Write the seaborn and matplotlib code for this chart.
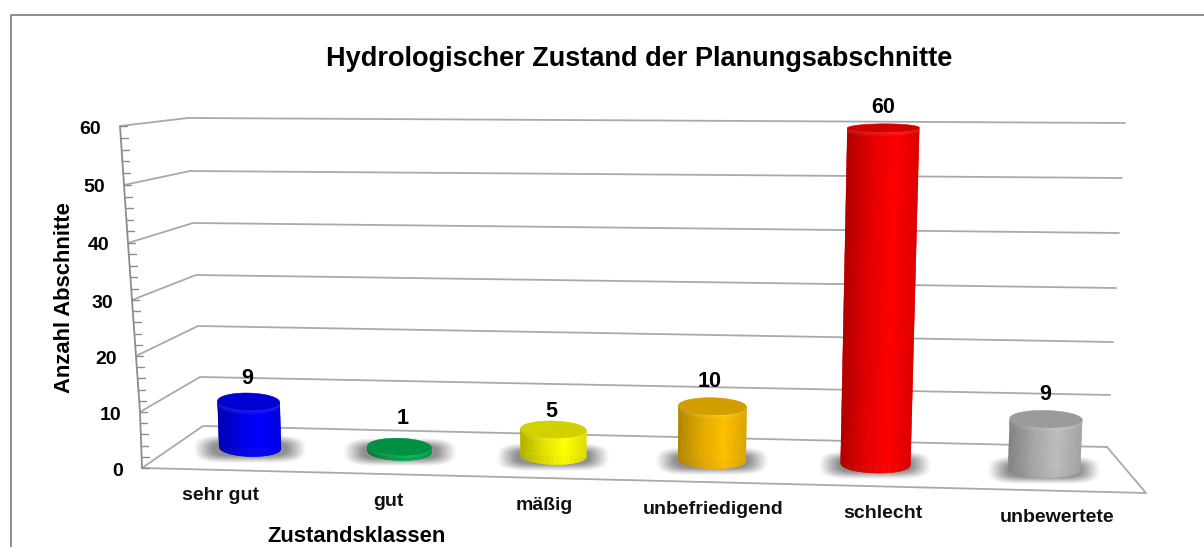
import matplotlib
matplotlib.use("Agg")
import matplotlib.pyplot as plt
import numpy as np
import pandas as pd
import seaborn as sns
from matplotlib.collections import PolyCollection
from matplotlib.colors import to_rgb
from matplotlib.transforms import Affine2D, Transform

# the data
categories = ["sehr gut", "gut", "mäßig", "unbefriedigend", "schlecht", "unbewertete"]
counts = [9, 1, 5, 10, 60, 9]
bar_colors = ["#0000ff", "#00b050", "#ffff00", "#ffc000", "#ff0000", "#bdbdbd"]
y_ticks = [0, 10, 20, 30, 40, 50, 60]

title = "Hydrologischer Zustand der Planungsabschnitte"
x_title = "Zustandsklassen"
y_title = "Anzahl Abschnitte"

W, H = 1204, 547

# the 3D look: where the plane of the bars lands in the picture, in pixels
# (category, value) -> (x, y)
plane_from = [(0, 0), (5, 0), (0, 60), (5, 60)]
plane_to = [(250, 448), (1044, 469), (240, 131), (1057, 127)]

# perspective wall, one entry per y tick
front_x = [142, 140, 136, 132, 128, 124, 120]
front_y = [468, 412, 356, 300, 243, 185, 126]
back_x = [203, 200, 198, 196, 193, 190, 188]
back_y = [426, 377, 326, 275, 223, 171, 118]
right_x = [1107, 1110, 1113, 1116, 1119, 1122, 1125]
right_y = [447, 395, 342, 288, 233, 178, 123]

# category labels are staggered along the floor edge
label_x = [220, 388, 544, 713, 883, 1057]
label_y = [496, 501, 505, 509, 513, 518]
value_dx = [-1, 3, -2, -3, 0, -1]
value_dy = [3, -2, 8, 2, 2, 2]


def fit_plane(src, dst):
    rows, rhs = [], []
    for (a, b), (x, y) in zip(src, dst):
        rows.append([a, b, 1, 0, 0, 0, -a * x, -b * x])
        rows.append([0, 0, 0, a, b, 1, -a * y, -b * y])
        rhs += [x, y]
    return np.append(np.linalg.solve(np.array(rows, float), np.array(rhs, float)), 1).reshape(3, 3)


plane = fit_plane(plane_from, plane_to)


class PlaneTransform(Transform):
    input_dims = 2
    output_dims = 2

    def transform_non_affine(self, values):
        pts = np.column_stack([values, np.ones(len(values))]) @ plane.T
        return pts[:, :2] / pts[:, 2:]


sns.set_theme(style="white")
plt.rcParams["font.family"] = ["Liberation Sans", "DejaVu Sans"]
plt.rcParams["font.weight"] = "bold"

fig = plt.figure(figsize=(W / 100, H / 100), dpi=100, facecolor="white")
ax = fig.add_axes([0, 0, 1, 1])

# pixel coordinates of the picture, y going down
px = Affine2D().scale(1, -1).translate(0, H)

df = pd.DataFrame({"klasse": categories, "anzahl": counts})
sns.barplot(data=df, x="klasse", y="anzahl", hue="klasse", palette=bar_colors,
            width=0.42, dodge=False, legend=False, saturation=1, ax=ax)
ax.axis("off")

# outer frame, only left and top are in the picture
ax.plot([10.5, 10.5, W], [H, 14.5, 14.5], color="#858585", lw=1.3, transform=px, zorder=1)

# walls and floor
grid_color = "#a9a9a9"
for i in range(len(y_ticks)):
    ax.plot([front_x[i], back_x[i], right_x[i]], [front_y[i], back_y[i], right_y[i]],
            color=grid_color, lw=1.3, transform=px, zorder=1)
ax.plot([front_x[0], 1146, right_x[0]], [front_y[0], 493, right_y[0]],
        color=grid_color, lw=1.3, transform=px, zorder=1)

# value axis with small ticks
ax.plot(front_x, front_y, color="#8c8c8c", lw=1.3, transform=px, zorder=1)
for v in range(0, 61, 2):
    ty = np.interp(v, y_ticks, front_y)
    tx = np.interp(v, y_ticks, front_x)
    ax.plot([tx, tx + 7], [ty, ty], color="#8c8c8c", lw=1, transform=px, zorder=1)
for i, v in enumerate(y_ticks):
    ax.text(front_x[i] - 19, front_y[i] + 3, str(v), ha="right", va="center", fontsize=14,
            color="black", transform=px, zorder=6)


def rim_height(y):
    # seen from above, so lower tops show a rounder ellipse
    return 4 + 4.5 * np.clip((y - 128) / 250, 0, 1)


def side_shade(u):
    # u from -1 to 1 across the cylinder
    return np.interp(u, [-1, -0.3, 0.35, 1], [0.68, 0.88, 1.0, 0.86])


yy, xx = np.mgrid[-1:1:60j, -1:1:120j]
shadow_alpha = np.clip(1.5 - np.sqrt(np.abs(xx) ** 5 + np.abs(yy) ** 3) * 1.55, 0, 1) ** 1.3

for n, patch in enumerate(list(ax.patches)):
    color = np.array(to_rgb(bar_colors[n]))
    left, width, value = patch.get_x(), patch.get_width(), patch.get_height()
    patch.set_transform(PlaneTransform() + px)
    patch.set_clip_on(False)
    patch.set_zorder(2.5)
    patch.set_edgecolor("none")

    corners = PlaneTransform().transform(np.array(
        [[left, 0], [left + width, 0], [left, value], [left + width, value]]))
    bl, br, tl, tr = corners
    cx_b, cy_b = (bl + br) / 2
    cx_t, cy_t = (tl + tr) / 2
    a_b, a_t = (br[0] - bl[0]) / 2, (tr[0] - tl[0]) / 2
    e_b, e_t = rim_height(cy_b), rim_height(cy_t)
    slope_b = (br[1] - bl[1]) / (2 * a_b)
    slope_t = (tr[1] - tl[1]) / (2 * a_t)

    # soft shadow on the floor
    rgba = np.zeros(shadow_alpha.shape + (4,))
    rgba[..., :3] = 0.42
    rgba[..., 3] = shadow_alpha * 0.75
    sh_y = cy_b + e_b - 8
    ax.imshow(rgba, extent=(cx_b - 58, cx_b + 58, sh_y + 15, sh_y - 15), aspect="auto",
              transform=px, zorder=2, interpolation="bilinear")

    # cylinder body as curved strips
    u = np.linspace(-1, 1, 81)
    uc = (u[:-1] + u[1:]) / 2
    arc = np.sqrt(np.clip(1 - u ** 2, 0, 1))
    body_h = max(cy_b - cy_t, 1)
    rim = min(5 / body_h, 0.6)
    t = np.append(np.linspace(0, 1 - rim, 5), np.linspace(1 - rim, 1, 6)[1:])
    xs = np.outer(1 - t, cx_b + a_b * u) + np.outer(t, cx_t + a_t * u)
    ys = (np.outer(1 - t, cy_b + slope_b * a_b * u + e_b * arc)
          + np.outer(t, cy_t + slope_t * a_t * u + e_t * arc))
    shade = side_shade(uc)
    tc = (t[:-1] + t[1:]) / 2
    verts, faces = [], []
    for r in range(len(tc)):
        # lighter edge just under the lid, fading out downwards
        glow = 0.14 * np.clip((tc[r] - (1 - rim)) / rim, 0, 1)
        for c in range(len(uc)):
            verts.append([(xs[r, c], ys[r, c]), (xs[r, c + 1], ys[r, c + 1]),
                          (xs[r + 1, c + 1], ys[r + 1, c + 1]), (xs[r + 1, c], ys[r + 1, c])])
            rgb = color * shade[c]
            faces.append(rgb + (1 - rgb) * glow)
    strips = PolyCollection(verts, facecolors=faces, edgecolors="face", linewidths=0.3,
                            transform=px, zorder=3)
    ax.add_collection(strips, autolim=False)

    # top lid
    th = np.linspace(0, 2 * np.pi, 90)
    lid_x = cx_t + a_t * np.cos(th)
    lid_y = cy_t + slope_t * a_t * np.cos(th) + e_t * np.sin(th)
    ax.fill(lid_x, lid_y, color=color * 0.82, lw=0.4, transform=px, zorder=4)

    ax.text(cx_t + value_dx[n], cy_t - e_t - 18 + value_dy[n], str(counts[n]),
            ha="center", va="center", fontsize=15.5, color="black", transform=px, zorder=6)
    ax.text(label_x[n], label_y[n], categories[n], ha="center", va="center", fontsize=14,
            color="#111111", transform=px, zorder=6)

ax.text(639, 59, title, ha="center", va="center", fontsize=19.5, color="black", transform=px)
ax.text(357, 537, x_title, ha="center", va="center", fontsize=15.8, color="black", transform=px)
ax.text(65, 298, y_title, ha="center", va="center", rotation=90, fontsize=15.8,
        color="black", transform=px)

fig.savefig("out.png", dpi=100, facecolor="white")
